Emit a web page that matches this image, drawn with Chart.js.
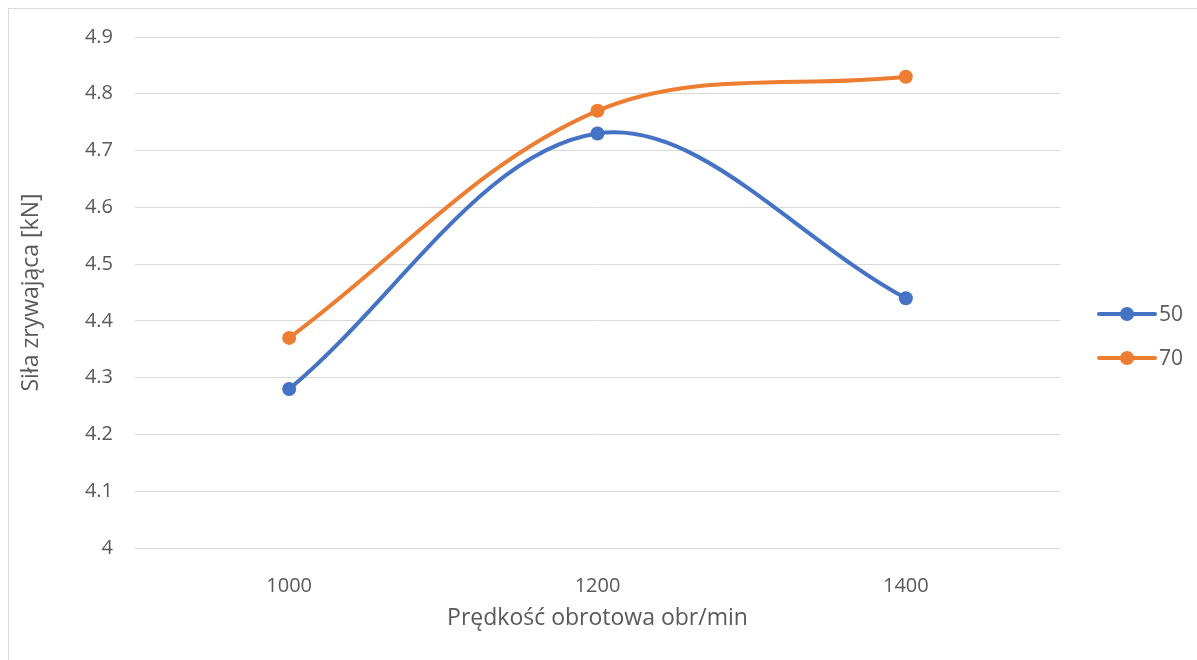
<!DOCTYPE html>
<html>
<head>
<meta charset="utf-8">
<script src="https://cdn.jsdelivr.net/npm/chart.js@4.4.1/dist/chart.umd.min.js"></script>
<style>
  html, body { margin: 0; padding: 0; background: #fff; }
  #wrap { width: 1197px; height: 660px; }
</style>
</head>
<body>
<div id="wrap"><canvas id="chart" width="1197" height="660"></canvas></div>
<script>
'use strict';

const speeds = ['1000', '1200', '1400'];
const force50 = [4.28, 4.73, 4.44];
const force70 = [4.37, 4.77, 4.83];
const seriesNames = ['50', '70'];
const seriesColors = ['#4472C4', '#ED7D31'];

const textColor = '#595959';
const gridColor = '#d9d9d9';
const fontFamily = '"Open Sans", Lato, sans-serif';

// outer frame of the chart box
const frame = {
    id: 'frame',
    beforeDraw(chart) {
        const c = chart.ctx;
        c.save();
        c.fillStyle = '#fff';
        c.fillRect(0, 0, chart.width, chart.height);
        c.strokeStyle = gridColor;
        c.lineWidth = 1;
        c.strokeRect(8.5, 8.5, chart.width + 10, chart.height + 10);
        c.restore();
    }
};

// legend on the right: line with a marker, then the series name
const sideLegend = {
    id: 'sideLegend',
    afterDraw(chart) {
        const c = chart.ctx;
        const x0 = 1099, x1 = 1155, y0 = 314, gap = 44;
        c.save();
        chart.data.datasets.forEach((ds, i) => {
            const y = y0 + i * gap;
            c.strokeStyle = ds.borderColor;
            c.lineWidth = 4;
            c.lineCap = 'round';
            c.beginPath();
            c.moveTo(x0, y);
            c.lineTo(x1, y);
            c.stroke();
            c.fillStyle = ds.borderColor;
            c.beginPath();
            c.arc((x0 + x1) / 2, y, 7, 0, Math.PI * 2);
            c.fill();
            c.fillStyle = textColor;
            c.font = '21px ' + fontFamily;
            c.textBaseline = 'middle';
            c.fillText(ds.label, x1 + 4, y + 1);
        });
        c.restore();
    }
};

const ctx = document.getElementById('chart').getContext('2d');

new Chart(ctx, {
    type: 'line',
    data: {
        labels: speeds,
        datasets: [force50, force70].map((values, i) => ({
            label: seriesNames[i],
            data: values,
            borderColor: seriesColors[i],
            backgroundColor: seriesColors[i],
            borderWidth: 4,
            tension: 0.35,
            pointRadius: 7,
            pointHoverRadius: 7,
            pointBorderWidth: 0,
            clip: false
        }))
    },
    options: {
        responsive: false,
        animation: false,
        layout: { padding: { left: 0, top: 37, right: 137, bottom: 0 } },
        plugins: {
            legend: { display: false },
            tooltip: { enabled: false }
        },
        scales: {
            x: {
                offset: true,
                grid: { display: false },
                border: { display: false },
                ticks: { color: textColor, font: { family: fontFamily, size: 20 }, padding: 18 },
                title: {
                    display: true,
                    text: 'Prędkość obrotowa obr/min',
                    color: textColor,
                    font: { family: fontFamily, size: 23 },
                    padding: { top: 0, bottom: 28 }
                },
                afterFit(scale) { scale.height = 112; }
            },
            y: {
                min: 4,
                max: 4.9,
                grid: { color: gridColor, lineWidth: 1, drawTicks: false },
                border: { display: false },
                ticks: {
                    stepSize: 0.1,
                    color: textColor,
                    font: { family: fontFamily, size: 20 },
                    padding: 22,
                    callback: v => String(Math.round(v * 10) / 10)
                },
                title: {
                    display: true,
                    text: 'Siła zrywająca [kN]',
                    color: textColor,
                    font: { family: fontFamily, size: 23 },
                    padding: { top: 18, bottom: 0 }
                },
                afterFit(scale) { scale.width = 135; }
            }
        }
    },
    plugins: [frame, sideLegend]
});
</script>
</body>
</html>
